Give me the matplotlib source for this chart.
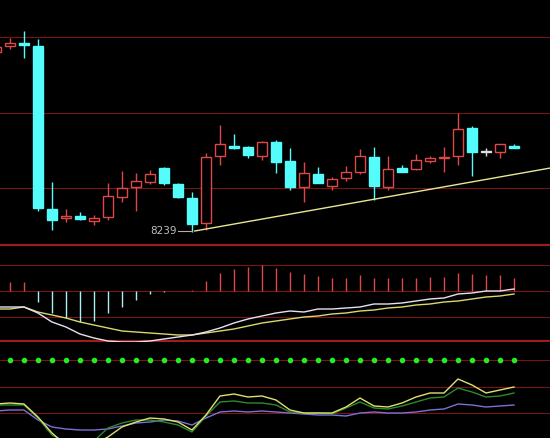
import matplotlib
matplotlib.use('agg')
import matplotlib.pyplot as plt
from matplotlib.patches import Rectangle

# candles: open, close, high, low
opens = [8599, 8611, 8617, 8611, 8285, 8267, 8271, 8261, 8269, 8309, 8329, 8339, 8367, 8335, 8307,
         8257, 8391, 8411, 8409, 8391, 8419, 8381, 8329, 8355, 8331, 8347, 8359, 8389, 8329, 8367,
         8365, 8381, 8387, 8391, 8447, 8399, 8399, 8411]
closes = [8609, 8617, 8613, 8287, 8263, 8271, 8265, 8267, 8311, 8327, 8341, 8355, 8337, 8309, 8255,
          8389, 8415, 8407, 8393, 8419, 8379, 8329, 8357, 8337, 8345, 8359, 8391, 8331, 8365, 8359,
          8383, 8387, 8389, 8445, 8399, 8399, 8415, 8407]
highs = [8613, 8627, 8641, 8625, 8339, 8285, 8279, 8273, 8337, 8361, 8357, 8363, 8369, 8337, 8319,
         8397, 8453, 8435, 8411, 8421, 8423, 8407, 8379, 8369, 8349, 8371, 8405, 8409, 8391, 8373,
         8395, 8391, 8409, 8477, 8451, 8407, 8415, 8415]
lows = [8597, 8605, 8587, 8281, 8243, 8259, 8263, 8253, 8263, 8299, 8281, 8335, 8333, 8307, 8239,
        8243, 8373, 8405, 8387, 8383, 8357, 8323, 8299, 8337, 8323, 8341, 8355, 8303, 8323, 8359,
        8363, 8377, 8359, 8373, 8351, 8391, 8387, 8407]
trend_x = [14.2, 39.6]
trend_y = [8241, 8367]

macd_hist = [9, 9, 9, -11, -22, -27, -31, -30, -22, -16, -9, -3, -1, 0, 1, 10, 18, 22, 24, 26, 23, 19,
             17, 15, 13, 13, 16, 13, 13, 13, 13, 14, 14, 18, 17, 16, 16, 13]
dif = [-16, -16, -16, -22, -31, -36, -43, -47, -50, -51, -51, -50, -48, -46, -44, -41, -37, -32, -28,
       -25, -22, -20, -21, -18, -18, -17, -16, -13, -13, -12, -10, -8, -7, -3, -2, 0, 0, 2]
dea = [-18, -18, -16, -21, -24, -27, -31, -34, -37, -40, -41, -42, -43, -44, -44, -42, -40, -38, -35,
       -32, -30, -28, -26, -25, -23, -22, -20, -19, -17, -16, -14, -13, -11, -10, -8, -6, -5, -3]

ind_a = [34, 35, 34, 21, 5, -7, -8, -6, 1, 11, 16, 20, 19, 16, 8, 23, 42, 44, 41, 42, 38, 28, 25, 25,
         25, 31, 40, 32, 31, 35, 41, 45, 45, 59, 53, 45, 48, 51]
ind_b = [33, 33, 33, 20, 3, -4, -5, -3, 10, 15, 18, 18, 16, 13, 6, 22, 36, 37, 35, 35, 33, 26, 25, 25,
         24, 30, 36, 30, 29, 32, 36, 40, 41, 50, 46, 41, 42, 45]
ind_c = [27, 28, 28, 18, 11, 9, 8, 8, 9, 12, 15, 16, 18, 17, 13, 20, 26, 27, 26, 27, 26, 25, 24, 23,
         23, 22, 25, 26, 25, 25, 26, 28, 29, 34, 33, 31, 32, 33]

CYAN = '#54fcfc'
RED = '#e04848'
GRID = '#7a1414'

n = len(opens)
xs = list(range(n))
fig = plt.figure(figsize=(5.5, 4.38), dpi=100, facecolor='black')
W, H = 550, 438


def panel(top, bottom):
    ax = fig.add_axes([0, 1 - bottom / H, 1, (bottom - top) / H])
    ax.set_facecolor('black')
    ax.set_xlim(0.29, 39.57)
    ax.axis('off')
    return ax


ax1 = panel(0, 247)
ax1.set_ylim(8209, 8703)
for g in [8629, 8477, 8327]:
    ax1.axhline(g, color=GRID, lw=0.8)
ax1.axhline(8213, color='#a01c1c', lw=1.6)
for i in xs:
    o, c, h, l = opens[i], closes[i], highs[i], lows[i]
    if c > o:
        col = RED
    elif c < o:
        col = CYAN
    else:
        col = '#e0e0e0'
    ax1.vlines(i, l, h, color=col, lw=1)
    lo, hi = min(o, c), max(o, c)
    if c < o:
        ax1.add_patch(Rectangle((i - 0.38, lo), 0.76, max(hi - lo, 1.5), facecolor=col, edgecolor=col, lw=1, zorder=3))
    else:
        ax1.add_patch(Rectangle((i - 0.38, lo), 0.76, max(hi - lo, 1.5), facecolor='black', edgecolor=col, lw=1, zorder=3))
ax1.plot(trend_x, trend_y, color='#e8e890', lw=1)
ax1.plot([13.0, 14.0], [8241, 8241], color='#b0b0b0', lw=0.8)
ax1.text(12.9, 8241, '8239', color='#c0c0c0', fontsize=7.5, ha='right', va='center')

ax2 = panel(247, 342)
ax2.set_ylim(-51, 44)
for g in [26, 0, -26]:
    ax2.axhline(g, color=GRID, lw=0.8)
ax2.axhline(-50, color='#a01c1c', lw=1.6)
for i in xs:
    v = macd_hist[i]
    ax2.vlines(i, 0, v, color=RED if v > 0 else '#a8f0f0', lw=1)
ax2.plot(xs, dea, color='#d8d870', lw=1)
ax2.plot(xs, dif, color='#e8e0f0', lw=1)

ax3 = panel(342, 438)
ax3.set_ylim(0, 96)
for g in [78, 51, 25]:
    ax3.axhline(g, color=GRID, lw=0.8)
ax3.scatter(xs, [78] * n, s=9, color='#22ee22', zorder=3)
ax3.plot(xs, ind_c, color='#7a70d8', lw=1)
ax3.plot(xs, ind_b, color='#2c8a2c', lw=1)
ax3.plot(xs, ind_a, color='#e0e070', lw=1)

fig.savefig('out.png', dpi=100, facecolor='black')
